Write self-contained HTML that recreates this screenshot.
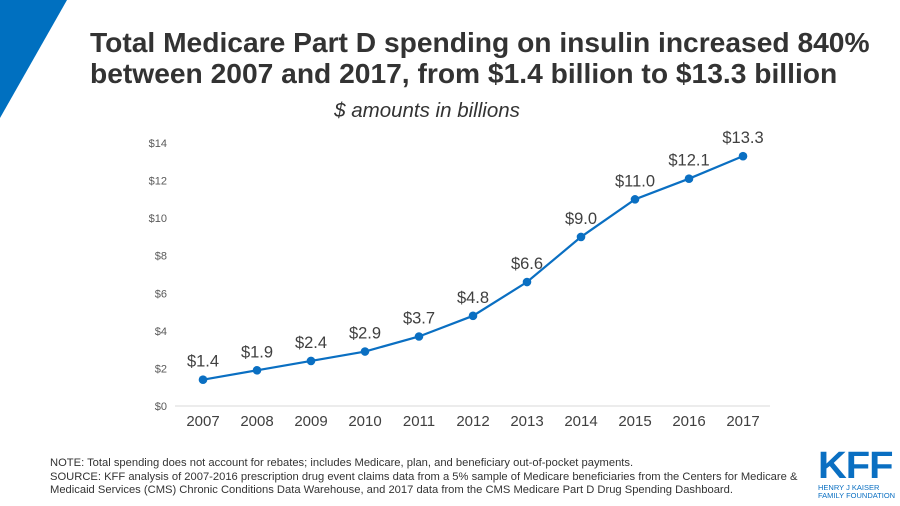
<!DOCTYPE html>
<html><head><meta charset="utf-8"><style>
body{margin:0;width:900px;height:506px;background:#fff;overflow:hidden;position:relative;font-family:"Liberation Sans",Arial,sans-serif}
.t{position:absolute;left:90px;top:27px;font-size:28.2px;font-weight:bold;color:#333;line-height:31px;margin:0;white-space:nowrap}
.sub{position:absolute;left:0;width:854px;text-align:center;top:99px;font-size:20.5px;font-style:italic;color:#333}
.note{position:absolute;left:50px;top:457px;font-size:11.2px;color:#333;line-height:13.5px;white-space:nowrap}
</style></head><body>
<svg width="900" height="506" style="position:absolute;left:0;top:0">
<polygon points="0,0 67,0 0,118" fill="#0070c0"/>
</svg>
<h1 class="t">Total Medicare Part D spending on insulin increased 840%<br>between 2007 and 2017, from $1.4 billion to $13.3 billion</h1>
<div class="sub">$ amounts in billions</div>
<svg id="chart" width="900" height="506" style="position:absolute;left:0;top:0"></svg>
<div class="note">NOTE: Total spending does not account for rebates; includes Medicare, plan, and beneficiary out-of-pocket payments.<br>SOURCE: KFF analysis of 2007-2016 prescription drug event claims data from a 5% sample of Medicare beneficiaries from the Centers for Medicare &amp;<br>Medicaid Services (CMS) Chronic Conditions Data Warehouse, and 2017 data from the CMS Medicare Part D Drug Spending Dashboard.</div>
<div style="position:absolute;left:818px;top:449px;color:#0a6fc2">
<div style="font-size:38px;font-weight:bold;letter-spacing:-1px;line-height:34px;transform:scaleX(1.05);transform-origin:left">KFF</div>
<div style="font-size:7.5px;line-height:8px;margin-top:1px">HENRY J KAISER<br>FAMILY FOUNDATION</div>
</div>
<script>
const years=["2007","2008","2009","2010","2011","2012","2013","2014","2015","2016","2017"];
const values=[1.4,1.9,2.4,2.9,3.7,4.8,6.6,9.0,11.0,12.1,13.3];
const labels=["$1.4","$1.9","$2.4","$2.9","$3.7","$4.8","$6.6","$9.0","$11.0","$12.1","$13.3"];
const yTicks=[0,2,4,6,8,10,12,14];
const svg=document.getElementById('chart');
const NS='http://www.w3.org/2000/svg';
const x=i=>203+i*54;
const y=v=>406-v*(263/14);
function mk(tag,attrs,txt){const e=document.createElementNS(NS,tag);for(const k in attrs)e.setAttribute(k,attrs[k]);if(txt!=null)e.textContent=txt;svg.appendChild(e);return e;}
yTicks.forEach(t=>{const e=mk('text',{x:167,y:y(t)+4,'text-anchor':'end','font-size':'11','fill':'#595959','font-family':'Liberation Sans,sans-serif'},'$'+t);

});
const ax=mk('line',{x1:175,x2:770,y1:406,y2:406,stroke:'#d9d9d9','stroke-width':1});


years.forEach((yr,i)=>{const e=mk('text',{x:x(i),y:426,'text-anchor':'middle','font-size':'15','fill':'#404040','font-family':'Liberation Sans,sans-serif'},yr);

});
const ln=mk('polyline',{points:values.map((v,i)=>x(i)+','+y(v)).join(' '),fill:'none',stroke:'#0a6fc2','stroke-width':2.2});


values.forEach((v,i)=>{const c=mk('circle',{cx:x(i),cy:y(v),r:4.3,fill:'#0a6fc2'});


const t=mk('text',{x:x(i),y:y(v)-13,'text-anchor':'middle','font-size':'16.5','fill':'#404040','font-family':'Liberation Sans,sans-serif'},labels[i]);

});
</script>
</body></html>
